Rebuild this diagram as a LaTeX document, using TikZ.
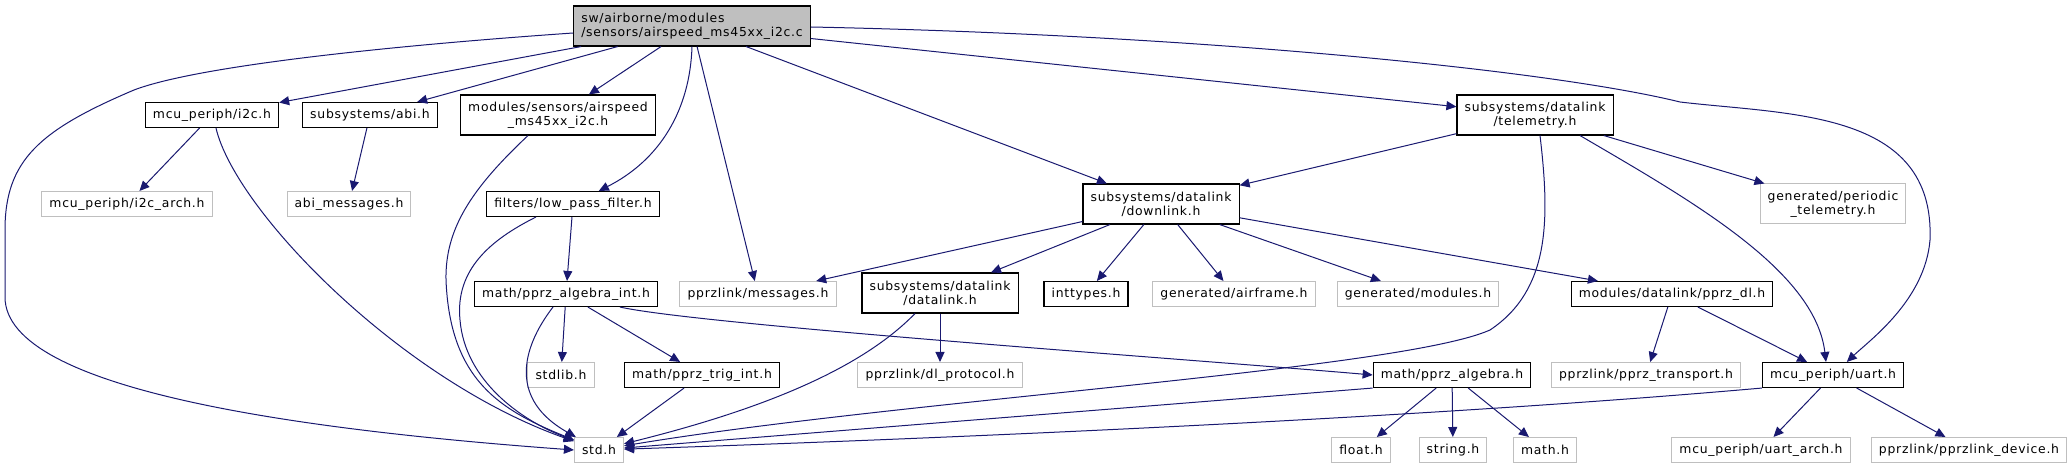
\documentclass[tikz,border=0pt]{standalone}
\usepackage{fontspec}
\setmainfont{DejaVu Sans}[LetterSpace=6]
\usepackage{tikz}
\usetikzlibrary{arrows.meta,positioning}
\definecolor{DoxEdge}{HTML}{191970}
\definecolor{DoxGray}{HTML}{BFBFBF}
\tikzset{
  hdr/.style={rectangle,draw=black,line width=0.55pt,fill=white,align=center,font=\fontsize{6.2}{7}\selectfont,inner xsep=3.8pt,inner ysep=0pt,minimum height=12.5pt},
  syshdr/.style={hdr,draw=DoxGray,line width=0.5pt},
  srcfile/.style={hdr,fill=DoxGray,align=left},
  twoline/.style={minimum height=20pt},
  dep/.style={-{Triangle[length=5pt,width=4.5pt]},line width=0.5pt,color=DoxEdge},
}

\begin{document}
\begin{tikzpicture}[x=0.5pt, y=-0.5pt]
  \useasboundingbox (0,0) rectangle (2071,469);

  % Source file
  \node[srcfile, twoline] (root) at (692,26) {sw/airborne/modules\\/sensors/airspeed\_ms45xx\_i2c.c};

  % First level
  \node[hdr] (i2c) at (212,115) {mcu\_periph/i2c.h};
  \node[hdr] (abi) at (370,115) {subsystems/abi.h};
  \node[hdr, twoline] (msens) at (558,115) {modules/sensors/airspeed\\\_ms45xx\_i2c.h};
  \node[hdr, twoline] (telem) at (1535,115) {subsystems/datalink\\/telemetry.h};

  % Second level
  \node[syshdr] (i2carch) at (127,204) {mcu\_periph/i2c\_arch.h};
  \node[syshdr] (abimsg) at (349,204) {abi\_messages.h};
  \node[hdr] (lpf) at (573,204) {filters/low\_pass\_filter.h};
  \node[hdr, twoline] (downlink) at (1161,204) {subsystems/datalink\\/downlink.h};
  \node[syshdr, twoline] (periodic) at (1833,204) {generated/periodic\\\_telemetry.h};

  % Third level
  \node[hdr] (algint) at (566,294) {math/pprz\_algebra\_int.h};
  \node[syshdr] (messages) at (758,294) {pprzlink/messages.h};
  \node[hdr, twoline] (datalink) at (940,293) {subsystems/datalink\\/datalink.h};
  \node[hdr] (inttypes) at (1086,294) {inttypes.h};
  \node[syshdr] (airframe) at (1234,294) {generated/airframe.h};
  \node[syshdr] (genmod) at (1418,294) {generated/modules.h};
  \node[hdr] (pprzdl) at (1672,294) {modules/datalink/pprz\_dl.h};

  % Fourth level
  \node[syshdr] (stdlib) at (561,375) {stdlib.h};
  \node[hdr] (trig) at (702,375) {math/pprz\_trig\_int.h};
  \node[syshdr] (dlproto) at (940,375) {pprzlink/dl\_protocol.h};
  \node[hdr] (algebra) at (1452,375) {math/pprz\_algebra.h};
  \node[syshdr] (transport) at (1646,375) {pprzlink/pprz\_transport.h};
  \node[hdr] (uart) at (1833,375) {mcu\_periph/uart.h};

  % Bottom row
  \node[syshdr] (std) at (599,450) {std.h};
  \node[syshdr] (floath) at (1361,450) {float.h};
  \node[syshdr] (stringh) at (1453,450) {string.h};
  \node[syshdr] (mathh) at (1545,450) {math.h};
  \node[syshdr] (uartarch) at (1761,450) {mcu\_periph/uart\_arch.h};
  \node[syshdr] (device) at (1969,450) {pprzlink/pprzlink\_device.h};

  % Arrows from source file
  \draw[dep] ([yshift=-3.5pt]root.west) .. controls (400,45) and (200,65) .. (134,90)
    .. controls (40,130) and (5,160) .. (5,230) -- (5,297)
    .. controls (5,390) and (300,430) .. (std.west);
  \draw[dep] (root) -- (i2c);
  \draw[dep] (root) -- (abi);
  \draw[dep] (root) -- (msens);
  \draw[dep] (root.south) .. controls (690,110) and (660,160) .. (lpf);
  \draw[dep] (root) -- (messages);
  \draw[dep] (root) -- (downlink);
  \draw[dep] (root) -- (telem);
  \draw[dep] ([yshift=-0.5pt]root.east) .. controls (1200,35) and (1550,70) .. (1680,102)
    .. controls (1790,115) and (1935,110) .. (1930,240)
    .. controls (1925,300) and (1870,340) .. (uart);

  % Arrows from first level
  \draw[dep] (i2c) -- (i2carch);
  \draw[dep] ([xshift=2pt]i2c.south) .. controls (235,210) and (400,380) .. (std);
  \draw[dep] (abi) -- (abimsg);
  \draw[dep] ([xshift=-15pt]msens.south) .. controls (470,190) and (445,230) .. (446,280)
    .. controls (450,380) and (500,410) .. (std);
  \draw[dep] (telem) -- (downlink);
  \draw[dep] ([xshift=2.5pt]telem.south) .. controls (1550,220) and (1550,290) .. (1490,330)
    .. controls (1400,370) and (900,400) .. (std);
  \draw[dep] ([xshift=22.5pt]telem.south) .. controls (1690,200) and (1815,270) .. ([xshift=-3.5pt]uart.north);
  \draw[dep] (telem) -- (periodic);

  % Arrows from second level
  \draw[dep] (lpf) -- (algint);
  \draw[dep] ([xshift=-18.5pt]lpf.south) .. controls (490,240) and (455,270) .. (460,320)
    .. controls (465,380) and (520,420) .. (std);
  \draw[dep] (downlink) -- (messages);
  \draw[dep] (downlink) -- (datalink);
  \draw[dep] (downlink) -- (inttypes);
  \draw[dep] (downlink) -- (airframe);
  \draw[dep] (downlink) -- (genmod);
  \draw[dep] (downlink) -- (pprzdl);

  % Arrows from third level
  \draw[dep] ([xshift=-6.5pt]algint.south) .. controls (520,350) and (510,400) .. (std);
  \draw[dep] (algint) -- (stdlib);
  \draw[dep] (algint) -- (trig);
  \draw[dep] ([xshift=27pt]algint.south) .. controls (700,325) and (1200,360) .. (algebra.west);
  \draw[dep] ([xshift=-12.5pt]datalink.south) .. controls (860,370) and (760,410) .. (std);
  \draw[dep] (datalink) -- (dlproto);
  \draw[dep] (pprzdl) -- (transport);
  \draw[dep] (pprzdl) -- (uart);

  % Arrows from fourth level
  \draw[dep] (trig) -- (std);
  \draw[dep] (algebra.south west) -- (std);
  \draw[dep] (algebra) -- (floath);
  \draw[dep] (algebra) -- (stringh);
  \draw[dep] (algebra) -- (mathh);
  \draw[dep] (uart.south west) .. controls (1400,420) and (900,440) .. (std);
  \draw[dep] (uart) -- (uartarch);
  \draw[dep] (uart) -- (device);
\end{tikzpicture}
\end{document}
